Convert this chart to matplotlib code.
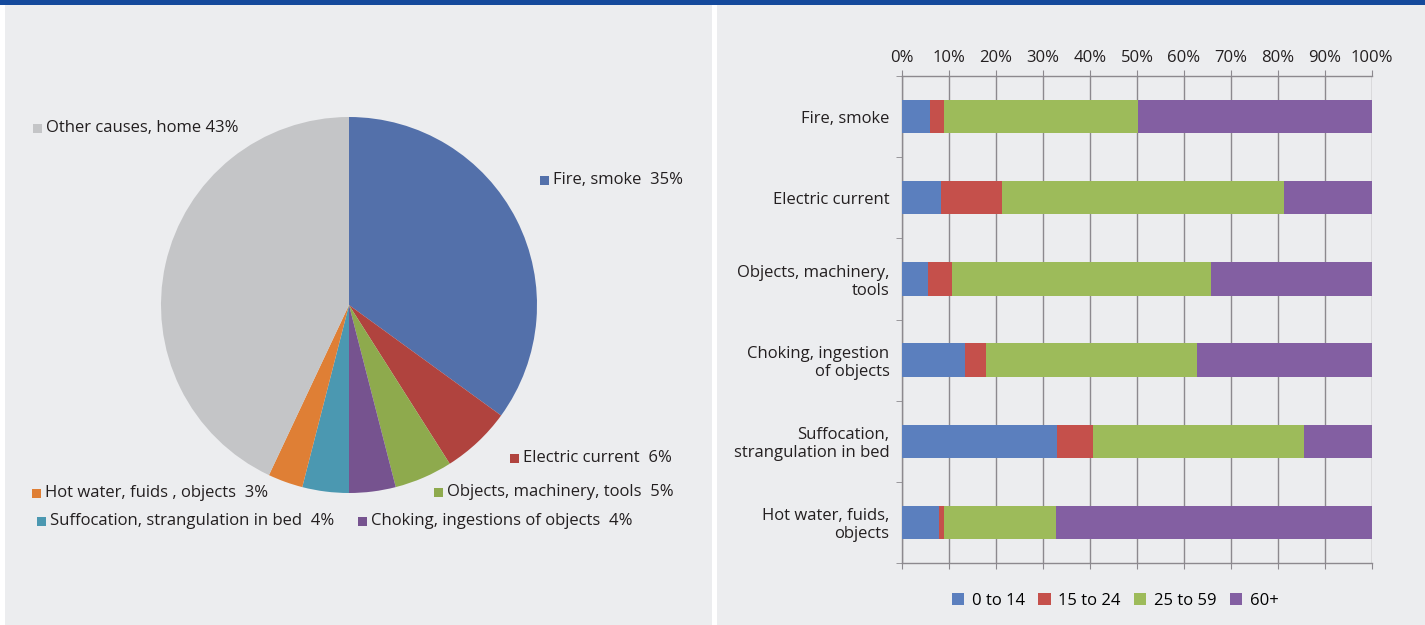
"""Home accident deaths by cause (pie) and by age group (stacked bars)."""

import matplotlib.pyplot as plt
from matplotlib.patches import Patch, Rectangle

# --- pie data (clockwise from 12 o'clock) ---
pie_labels = [
    "Fire, smoke",
    "Electric current",
    "Objects, machinery, tools",
    "Choking, ingestions of objects",
    "Suffocation, strangulation in bed",
    "Hot water, fuids , objects",
    "Other causes, home",
]
pie_values = [35, 6, 5, 4, 4, 3, 43]
pie_colors = ["#5370AA", "#B0433E", "#8EAA4D", "#76538F", "#4B98B1", "#DF7F35", "#C4C5C7"]

# --- stacked bar data (percent of each cause by age group) ---
bar_categories = [
    "Fire, smoke",
    "Electric current",
    "Objects, machinery,\ntools",
    "Choking, ingestion\nof objects",
    "Suffocation,\nstrangulation in bed",
    "Hot water, fuids,\nobjects",
]
age_groups = ["0 to 14", "15 to 24", "25 to 59", "60+"]
age_0_14 = [6.0, 8.3, 5.5, 13.4, 33.0, 7.9]
age_15_24 = [3.0, 12.9, 5.1, 4.5, 7.6, 1.1]
age_25_59 = [41.2, 60.0, 55.1, 44.8, 45.0, 23.7]
age_60_plus = [49.8, 18.8, 34.3, 37.3, 14.4, 67.3]
age_colors = ["#5B7FBE", "#C5504B", "#9DBB5A", "#835FA2"]

W, H = 1425, 625
BG = "#ECEDEF"
GRID = "#8C898E"
TEXT = "#231F20"
FS = 12

plt.rcParams["font.family"] = ["Open Sans", "DejaVu Sans"]


def px_rect(fig, x0, y0, x1, y1, color):
    # rectangle given in pixel coordinates measured from the top-left corner
    fig.add_artist(Rectangle((x0 / W, 1 - y1 / H), (x1 - x0) / W, (y1 - y0) / H,
                             transform=fig.transFigure, facecolor=color,
                             edgecolor="none", zorder=0))


def pie_label(fig, x, y, text, color):
    px_rect(fig, x, y - 4.5, x + 9, y + 4.5, color)
    fig.text((x + 13) / W, 1 - y / H, text, fontsize=FS, color=TEXT,
             ha="left", va="center")


def main() -> None:
    fig = plt.figure(figsize=(W / 100, H / 100), dpi=100, facecolor="white")

    # panel backgrounds and the blue band on top
    px_rect(fig, 5, 0, 712, H, BG)
    px_rect(fig, 717, 0, W, H, BG)
    px_rect(fig, 0, 0, W, 5, "#154A9C")

    # ---------- pie ----------
    cx, cy, r = 349, 305, 188
    ax_pie = fig.add_axes([(cx - r) / W, 1 - (cy + r) / H, 2 * r / W, 2 * r / H])
    ax_pie.pie(pie_values, colors=pie_colors, startangle=90, counterclock=False,
               wedgeprops={"linewidth": 0})
    ax_pie.set_xlim(-1, 1)
    ax_pie.set_ylim(-1, 1)
    ax_pie.set_aspect("equal")
    ax_pie.axis("off")

    label_pos = [(540, 180), (510, 458), (434, 492), (358, 521),
                 (37, 521), (32, 493), (33, 128)]
    for (x, y), name, val, col in zip(label_pos, pie_labels, pie_values, pie_colors):
        gap = " " if name.startswith("Other") else "  "
        pie_label(fig, x, y, f"{name}{gap}{val}%", col)

    # ---------- stacked bars ----------
    ax = fig.add_axes([902 / W, 1 - 563 / H, 470 / W, 487 / H])
    ax.set_facecolor("none")
    y = list(range(len(bar_categories)))
    left = [0.0] * len(y)
    for vals, name, col in zip([age_0_14, age_15_24, age_25_59, age_60_plus],
                               age_groups, age_colors):
        ax.barh(y, vals, left=left, height=0.41, color=col, label=name, zorder=3)
        left = [a + b for a, b in zip(left, vals)]

    ax.set_xlim(0, 100)
    ax.set_ylim(len(y) - 0.5, -0.5)
    ax.set_xticks(range(0, 101, 10))
    ax.set_xticklabels([f"{v}%" for v in range(0, 101, 10)], fontsize=FS, color=TEXT)
    ax.xaxis.set_ticks_position("both")
    ax.tick_params(axis="x", labeltop=True, labelbottom=False, length=4,
                   color=GRID, pad=3)
    ax.grid(axis="x", color=GRID, linewidth=1, zorder=1)

    ax.set_yticks(y)
    ax.set_yticklabels(bar_categories, fontsize=FS, color=TEXT, linespacing=1.15)
    ax.set_yticks([v - 0.5 for v in range(len(y) + 1)], minor=True)
    ax.tick_params(axis="y", which="major", length=0, pad=9)
    ax.tick_params(axis="y", which="minor", length=4, color=GRID)

    for side in ["top", "bottom", "left"]:
        ax.spines[side].set_color(GRID)
        ax.spines[side].set_linewidth(1)
    ax.spines["right"].set_visible(False)

    handles = [Patch(facecolor=c, label=n) for c, n in zip(age_colors, age_groups)]
    fig.legend(handles=handles, loc="center", bbox_to_anchor=(1115 / W, 1 - 601 / H),
               ncol=4, frameon=False, fontsize=FS, handlelength=0.75,
               handleheight=0.75, handletextpad=0.45, columnspacing=0.8)

    fig.savefig("out.png", dpi=100, facecolor="white")
    plt.close(fig)


if __name__ == "__main__":
    main()
